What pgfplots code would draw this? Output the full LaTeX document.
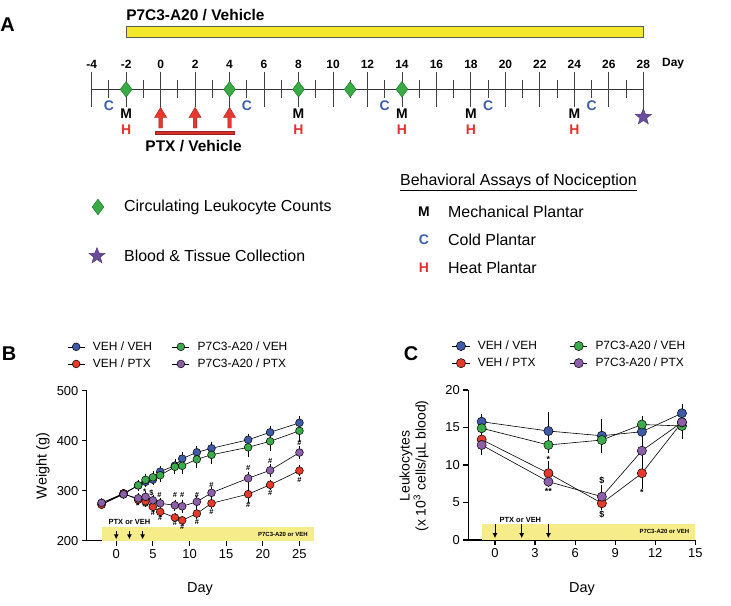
\documentclass[border=0pt]{standalone}
\usepackage{fontspec}
\setmainfont{Liberation Sans}
\usepackage{pgfplots}
\pgfplotsset{compat=1.18}
\usetikzlibrary{arrows.meta}

\definecolor{cblue}{HTML}{3E5BA9}
\definecolor{cred}{HTML}{E53A2A}
\definecolor{cgreen}{HTML}{3BAA4A}
\definecolor{cpurple}{HTML}{8C5FA8}
\definecolor{dgreen}{HTML}{3AAA45}
\definecolor{dgreenE}{HTML}{1E7A2A}
\definecolor{starP}{HTML}{6A4C9C}
\definecolor{letC}{HTML}{3A5DAE}
\definecolor{letH}{HTML}{E53030}
\definecolor{barY}{HTML}{F5E82A}
\definecolor{bandY}{HTML}{F7EC8A}
\definecolor{arrR}{HTML}{E8372C}
\definecolor{arrRE}{HTML}{A02020}

\newcommand{\fsz}[1]{\fontsize{#1}{#1}\selectfont}

\pgfdeclareplotmark{fstar}{%
  \pgfpathmoveto{\pgfpointpolar{90}{\pgfplotmarksize}}%
  \pgfpathlineto{\pgfpointpolar{126}{0.42\pgfplotmarksize}}%
  \pgfpathlineto{\pgfpointpolar{162}{\pgfplotmarksize}}%
  \pgfpathlineto{\pgfpointpolar{198}{0.42\pgfplotmarksize}}%
  \pgfpathlineto{\pgfpointpolar{234}{\pgfplotmarksize}}%
  \pgfpathlineto{\pgfpointpolar{270}{0.42\pgfplotmarksize}}%
  \pgfpathlineto{\pgfpointpolar{306}{\pgfplotmarksize}}%
  \pgfpathlineto{\pgfpointpolar{342}{0.42\pgfplotmarksize}}%
  \pgfpathlineto{\pgfpointpolar{18}{\pgfplotmarksize}}%
  \pgfpathlineto{\pgfpointpolar{54}{0.42\pgfplotmarksize}}%
  \pgfpathclose
  \pgfusepathqfillstroke}

\pgfplotsset{
  dataax/.style={
    scale only axis, axis lines=left, axis line style={-, line width=1.2pt, black},
    tick align=outside, major tick length=5bp,
    tick style={line width=1.2pt, black},
    ticklabel style={font=\fsz{13}},
    /pgf/number format/assume math mode=true,
    clip=false,
    legend columns=2,
    legend cell align=left,
    legend style={draw=none, fill=none, font=\fsz{12}, row sep=3bp,
      /tikz/every odd column/.append style={column sep=6bp}},
  },
  ser/.style={black, line width=0.6pt, mark=*, mark size=#1,
    error bars/y dir=both, error bars/y explicit,
    error bars/error bar style={black, line width=0.7pt},
    error bars/error mark options={black, mark size=2.8bp, line width=0.7pt}},
}

\begin{document}
\begin{tikzpicture}
\useasboundingbox (0,0) rectangle (731bp,-606bp);

% ---------------- Panel A ----------------
\begin{axis}[at={(0bp,0bp)}, anchor=north west, scale only axis,
  width=731bp, height=300bp, xmin=-9.3155, xmax=33.0855,
  ymin=0, ymax=300, y dir=reverse, hide axis, clip=false]
\addplot[fill=barY, draw=black!65, line width=0.7pt] coordinates {(-2,26) (28,26) (28,37) (-2,37)} -- cycle;
\addplot[black!80, line width=0.9pt] coordinates {(-4,89.3) (28,89.3)};
\addplot[only marks, mark=|, mark size=17.8bp, black!75, mark options={line width=0.9pt}]
  coordinates {(-4,89.5) (-2,89.5) (0,89.5) (2,89.5) (4,89.5) (6,89.5) (8,89.5) (10,89.5) (12,89.5) (14,89.5) (16,89.5) (18,89.5) (20,89.5) (22,89.5) (24,89.5) (26,89.5)};
\addplot[only marks, mark=|, mark size=20.15bp, black!75, mark options={line width=0.9pt}]
  coordinates {(28,91.85)};
\addplot[only marks, mark=|, mark size=9.15bp, black!75, mark options={line width=0.9pt}]
  coordinates {(-3,89.15) (-1,89.15) (1,89.15) (3,89.15) (5,89.15) (7,89.15) (9,89.15) (11,89.15) (13,89.15) (15,89.15) (17,89.15) (19,89.15) (21,89.15) (23,89.15) (25,89.15) (27,89.15)};
\addplot[only marks, mark=diamond*, mark size=7.8bp, mark options={fill=dgreen, draw=dgreenE, line width=0.5pt}]
  coordinates {(-2,89.3) (4,89.3) (8,89.3) (11,89.3) (14,89.3)};
\addplot[only marks, mark=fstar, mark size=8.5bp, mark options={fill=starP, draw=starP!70!black, line width=0.4pt}]
  coordinates {(28,117)};
\addplot[fill=arrR, draw=arrRE, line width=0.4pt] coordinates {(-0.1,128) (-0.1,117.5) (-0.35,117.5) (0,107.3) (0.35,117.5) (0.1,117.5) (0.1,128)} -- cycle;
\addplot[fill=arrR, draw=arrRE, line width=0.4pt] coordinates {(1.9,128) (1.9,117.5) (1.65,117.5) (2,107.3) (2.35,117.5) (2.1,117.5) (2.1,128)} -- cycle;
\addplot[fill=arrR, draw=arrRE, line width=0.4pt] coordinates {(3.9,128) (3.9,117.5) (3.65,117.5) (4,107.3) (4.35,117.5) (4.1,117.5) (4.1,128)} -- cycle;
\addplot[fill=arrR!90!black, draw=arrRE, line width=0.4pt] coordinates {(-0.29,130.7) (4.24,130.7) (4.24,134) (-0.29,134)} -- cycle;
\addplot[only marks, mark=diamond*, mark size=7.8bp, mark options={fill=dgreen, draw=dgreenE, line width=0.5pt}]
  coordinates {(-3.631,207)};
\addplot[only marks, mark=fstar, mark size=8.5bp, mark options={fill=starP, draw=starP!70!black, line width=0.4pt}]
  coordinates {(-3.689,256)};
\node[font=\fsz{20}\bfseries] at (-8.881,25) {A};
\node[font=\fsz{15.5}\bfseries, anchor=west, inner sep=0pt] at (-2,15) {P7C3-A20 / Vehicle};
\pgfplotsinvokeforeach{-4,-2,...,28}{\node[font=\fsz{12}\bfseries] at (#1,64) {#1};}
\node[font=\fsz{12}\bfseries, anchor=west, inner sep=0pt] at (29.08,64) {Day};
\pgfplotsinvokeforeach{-2,8,14,18,24}{%
  \node[font=\fsz{14}\bfseries] at (#1,113.3) {M};
  \node[font=\fsz{14}\bfseries, text=letH] at (#1,130) {H};}
\pgfplotsinvokeforeach{-3,5,13,19,25}{%
  \node[font=\fsz{14}\bfseries, text=letC] at (#1,106) {C};}
\node[font=\fsz{15.5}\bfseries] at (1.91,146) {PTX / Vehicle};
\node[font=\fsz{16}, anchor=west, inner sep=0pt] at (-2.123,207) {Circulating Leukocyte Counts};
\node[font=\fsz{16}, anchor=west, inner sep=0pt] at (-2.123,256) {Blood \& Tissue Collection};
\node[font=\fsz{16}, anchor=west, inner sep=0pt] at (13.886,182) {\underline{Behavioral Assays of Nociception}};
\node[font=\fsz{14}\bfseries] at (15.278,212) {M};
\node[font=\fsz{14}\bfseries, text=letC] at (15.278,240) {C};
\node[font=\fsz{14}\bfseries, text=letH] at (15.278,268) {H};
\node[font=\fsz{16}, anchor=west, inner sep=0pt] at (16.671,212) {Mechanical Plantar};
\node[font=\fsz{16}, anchor=west, inner sep=0pt] at (16.671,240) {Cold Plantar};
\node[font=\fsz{16}, anchor=west, inner sep=0pt] at (16.671,268) {Heat Plantar};
\end{axis}

% ---------------- Panel B ----------------
\begin{axis}[dataax, at={(86.9bp,-540.8bp)}, anchor=south west,
  width=227.2bp, height=150bp, xmin=-4, xmax=27, ymin=200, ymax=500,
  xtick={0,5,...,25}, ytick={200,300,400,500},
  legend style={at={(axis description cs:-0.1,1.355)}, anchor=north west,
    /tikz/every even column/.append style={column sep=18bp}},
  legend entries={VEH / VEH, P7C3-A20 / VEH, VEH / PTX, P7C3-A20 / PTX}]
\addplot[fill=bandY, draw=none, forget plot] coordinates {(-2,200) (27,200) (27,228.6) (-2,228.6)} -- cycle;
\addplot[black, line width=0.9pt, -{Latex[length=5bp,width=5bp]}, forget plot] coordinates {(0,219) (0,203)};
\addplot[black, line width=0.9pt, -{Latex[length=5bp,width=5bp]}, forget plot] coordinates {(1.8,219) (1.8,203)};
\addplot[black, line width=0.9pt, -{Latex[length=5bp,width=5bp]}, forget plot] coordinates {(3.6,219) (3.6,203)};
\node[font=\fsz{7.5}\bfseries] at (1.8,237.5) {PTX or VEH};
\node[font=\fsz{6}\bfseries, anchor=east] at (26.6,213) {P7C3-A20 or VEH};
\addplot[ser=3.9bp, mark options={fill=cblue, draw=black, line width=0.5pt}] coordinates {
(-2,275.4) +- (0,4) (1,295) +- (0,4) (3,310.8) +- (0,5) (4,318) +- (0,5) (5,322.3) +- (0,5) (6,338.3) +- (0,6) (8,350.4) +- (0,7) (9,364.3) +- (0,7) (11,377) +- (0,7) (13,385) +- (0,7) (18,402) +- (0,7) (21,417) +- (0,7) (25,436) +- (0,9)};
\addplot[ser=3.9bp, mark options={fill=cgreen, draw=black, line width=0.5pt}] coordinates {
(-2,273) +- (0,4) (1,293) +- (0,4) (3,311) +- (0,6) (4,322) +- (0,7) (5,327) +- (0,7) (6,331) +- (0,7) (8,348) +- (0,8) (9,350) +- (0,10) (11,363) +- (0,11) (13,372) +- (0,12) (18,387) +- (0,13) (21,399) +- (0,14) (25,420) +- (0,16)};
\addplot[ser=3.9bp, mark options={fill=cred, draw=black, line width=0.5pt}] coordinates {
(-2,272) +- (0,3) (1,295) +- (0,4) (3,282) +- (0,5) (4,279) +- (0,5) (5,268) +- (0,6) (6,258) +- (0,4) (8,246.6) +- (0,4) (9,241) +- (0,4) (11,254.5) +- (0,5) (13,275) +- (0,6) (18,293.3) +- (0,13) (21,312) +- (0,5) (25,340.3) +- (0,6)};
\addplot[ser=3.9bp, mark options={fill=cpurple, draw=black, line width=0.5pt}] coordinates {
(-2,276) +- (0,4) (1,293) +- (0,4) (3,285) +- (0,5) (4,288) +- (0,6) (5,281) +- (0,6) (6,275) +- (0,6) (8,271) +- (0,6) (9,269) +- (0,7) (11,278) +- (0,7) (13,296) +- (0,6) (18,325) +- (0,8) (21,341) +- (0,7) (25,376.5) +- (0,7)};
\node[font=\fsz{8}\bfseries] at (2.9,270) {*};
\node[font=\fsz{8}\bfseries] at (4.0,268) {**};
\node[font=\fsz{8}\bfseries] at (3.9,299) {*};
\node[font=\fsz{7.5}\bfseries] at (4.8,296) {\$};
\pgfplotsinvokeforeach{5.9,8,9,11}{\node[font=\fsz{7.5}\bfseries] at (#1,292) {\#};}
\node[font=\fsz{7.5}\bfseries] at (13,312) {\#};
\node[font=\fsz{7.5}\bfseries] at (18,345) {\#};
\node[font=\fsz{7.5}\bfseries] at (21,360) {\#};
\node[font=\fsz{7.5}\bfseries] at (25,395) {\#};
\node[font=\fsz{7.5}\bfseries] at (5,256) {\#};
\node[font=\fsz{7.5}\bfseries] at (6,245) {\#};
\node[font=\fsz{7.5}\bfseries] at (8,235) {\#};
\node[font=\fsz{7.5}\bfseries] at (9,227) {\#};
\node[font=\fsz{7.5}\bfseries] at (11,237) {\#};
\node[font=\fsz{7.5}\bfseries] at (13,257) {\#};
\node[font=\fsz{7.5}\bfseries] at (18,271) {\#};
\node[font=\fsz{7.5}\bfseries] at (21,295) {\#};
\node[font=\fsz{7.5}\bfseries] at (25,322) {\#};
\end{axis}

% ---------------- Panel C ----------------
\begin{axis}[dataax, at={(468.3bp,-540bp)}, anchor=south west,
  width=227bp, height=150bp, xmin=-2, xmax=15, ymin=0, ymax=20,
  xtick={0,3,...,15}, ytick={0,5,...,20},
  legend style={at={(axis description cs:-0.085,1.355)}, anchor=north west,
    /tikz/every even column/.append style={column sep=31bp}},
  legend entries={VEH / VEH, P7C3-A20 / VEH, VEH / PTX, P7C3-A20 / PTX}]
\addplot[fill=bandY, draw=none, forget plot] coordinates {(-1,0) (15,0) (15,2.2) (-1,2.2)} -- cycle;
\addplot[black, line width=0.9pt, -{Latex[length=5bp,width=5bp]}, forget plot] coordinates {(0,2.1) (0,0.25)};
\addplot[black, line width=0.9pt, -{Latex[length=5bp,width=5bp]}, forget plot] coordinates {(2,2.1) (2,0.25)};
\addplot[black, line width=0.9pt, -{Latex[length=5bp,width=5bp]}, forget plot] coordinates {(4,2.1) (4,0.25)};
\node[font=\fsz{7.5}\bfseries] at (1.9,2.65) {PTX or VEH};
\node[font=\fsz{6}\bfseries, anchor=east] at (14.8,1.2) {P7C3-A20 or VEH};
\addplot[ser=4.6bp, mark options={fill=cblue, draw=black, line width=0.5pt}] coordinates {
(-1,15.77) +- (0,0.7) (4,14.53) +- (0,2.2) (8,13.9) +- (0,1.9) (11,14.44) +- (0,0.8) (14,16.9) +- (0,0.8)};
\addplot[ser=4.6bp, mark options={fill=cgreen, draw=black, line width=0.5pt}] coordinates {
(-1,14.9) +- (0,0.7) (4,12.67) +- (0,0.7) (8,13.33) +- (0,1.3) (11,15.4) +- (0,0.8) (14,15.2) +- (0,1.4)};
\addplot[ser=4.6bp, mark options={fill=cred, draw=black, line width=0.5pt}] coordinates {
(-1,13.4) +- (0,0.7) (4,8.9) +- (0,1.2) (8,4.9) +- (0,0.5) (11,8.9) +- (0,1.7) (14,15.7) +- (0,0.5)};
\addplot[ser=4.6bp, mark options={fill=cpurple, draw=black, line width=0.5pt}] coordinates {
(-1,12.67) +- (0,0.9) (4,7.78) +- (0,0.4) (8,5.78) +- (0,1.2) (11,11.9) +- (0,1.5) (14,15.7) +- (0,0.7)};
\node[font=\fsz{9}\bfseries] at (4,10.75) {*};
\node[font=\fsz{9}\bfseries] at (4,6.5) {**};
\node[font=\fsz{9}\bfseries] at (8,8.0) {\$};
\node[font=\fsz{9}\bfseries] at (8,3.45) {\$};
\node[font=\fsz{9}\bfseries] at (11,6.3) {*};
\end{axis}

\node[font=\fsz{20}\bfseries] at (9bp,-354bp) {B};
\node[font=\fsz{20}\bfseries] at (411bp,-354bp) {C};
\node[font=\fsz{14.5}, rotate=90] at (43bp,-466bp) {Weight (g)};
\node[font=\fsz{14.5}] at (200bp,-589bp) {Day};
\node[font=\fsz{14.5}] at (582bp,-589bp) {Day};
\node[font=\fsz{14}, rotate=90, align=center] at (414bp,-466bp) {\fontsize{14}{19}\selectfont Leukocytes\\(x 10\textsuperscript{3} cells/µL blood)};
\end{tikzpicture}
\end{document}
